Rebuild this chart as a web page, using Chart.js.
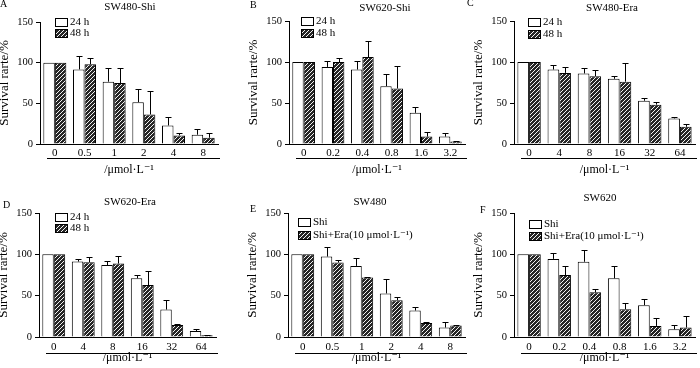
<!DOCTYPE html>
<html lang="en">
<head>
  <meta charset="UTF-8" />
  <title>Survival rate panels</title>
  <script src="https://cdn.jsdelivr.net/npm/chart.js"></script>
  <style>
    html, body { margin: 0; padding: 0; background: #fff; overflow: hidden; }
    body { position: relative; width: 700px; height: 368px; }
    canvas { position: absolute; }
  </style>
</head>
<body>
  <script>
    // concentrations (x categories)
    const shiConc = ['0', '0.5', '1', '2', '4', '8'];
    const shi620Conc = ['0', '0.2', '0.4', '0.8', '1.6', '3.2'];
    const eraConc = ['0', '4', '8', '16', '32', '64'];

    // A  SW480-Shi
    const a24 = [100, 91.7, 76.6, 51.4, 22.8, 11.4];
    const a24Err = [0, 17, 17, 16, 11, 7];
    const a48 = [100, 98, 75, 36.3, 10.6, 7.7];
    const a48Err = [0, 8, 19, 29, 3, 6];
    // B  SW620-Shi
    const b24 = [100, 94, 90.8, 70.5, 38, 9];
    const b24Err = [0, 7, 11, 15, 7, 5];
    const b48 = [100, 100, 106, 67.7, 9, 3];
    const b48Err = [0, 5, 20, 27, 6, 0.5];
    // C  SW480-Era
    const c24 = [100, 90.8, 86, 79.5, 52.7, 31.2];
    const c24Err = [0, 6, 7, 3, 4, 2];
    const c48 = [100, 86.7, 82.7, 76, 48, 21];
    const c48Err = [0, 7, 7, 23, 3, 4];
    // D  SW620-Era
    const d24 = [100, 91.2, 87, 71, 33.2, 7.3];
    const d24Err = [0, 3, 5, 4, 11, 2];
    const d48 = [100, 90.4, 88.8, 62.8, 14.6, 2];
    const d48Err = [0, 6, 9, 17, 1, 1];
    // E  SW480 combination
    const eShi = [100, 97.3, 86, 52.7, 32, 11.4];
    const eShiErr = [0, 12, 10, 17, 4, 7];
    const eCombo = [100, 90, 72, 44.6, 17, 13.8];
    const eComboErr = [0, 3, 1, 4, 1, 1];
    // F  SW620 combination
    const fShi = [100, 94.5, 91, 71, 38.5, 9.3];
    const fShiErr = [0, 7, 14, 15, 7, 5];
    const fCombo = [100, 75, 54, 33.6, 13.4, 11.4];
    const fComboErr = [0, 11, 4, 7, 9, 14];

    const timeLabels = ['24 h', '48 h'];
    const comboLabels = ['Shi', 'Shi+Era(10 \u03bcmol\u00b7L\u207b\u00b9)'];
    const yTicks = [0, 50, 100, 150];

    const SERIF = '"Liberation Serif", "DejaVu Serif", serif';

    // layout of the six panels (absolute page pixels)
    const panels = [
      { letter: 'A', lp: [0, 7], title: 'SW480-Shi', tp: [130, 7.5], axis: 40, right: 218, top: 22, bottom: 144, row: 0,
        cats: shiConc, labels: timeLabels, s1: a24, e1: a24Err, s2: a48, e2: a48Err, leg: [15, 0, 11] },
      { letter: 'B', lp: [250, 8], title: 'SW620-Shi', tp: [385, 8.5], axis: 289, right: 465, top: 21, bottom: 144, row: 0,
        cats: shi620Conc, labels: timeLabels, s1: b24, e1: b24Err, s2: b48, e2: b48Err, leg: [12, 0, 12] },
      { letter: 'C', lp: [467, 6], title: 'SW480-Era', tp: [612, 8.5], axis: 514, right: 695, top: 21, bottom: 144, row: 0,
        cats: eraConc, labels: timeLabels, s1: c24, e1: c24Err, s2: c48, e2: c48Err, leg: [14, 1, 12] },
      { letter: 'D', lp: [3, 208], title: 'SW620-Era', tp: [130, 202], axis: 39, right: 216, top: 213, bottom: 337, row: 184,
        cats: eraConc, labels: timeLabels, s1: d24, e1: d24Err, s2: d48, e2: d48Err, leg: [16, 4, 11] },
      { letter: 'E', lp: [250, 212], title: 'SW480', tp: [370, 202], axis: 288, right: 465, top: 213, bottom: 337, row: 184,
        cats: shiConc, labels: comboLabels, s1: eShi, e1: eShiErr, s2: eCombo, e2: eComboErr, leg: [10, 9, 13] },
      { letter: 'F', lp: [480, 213], title: 'SW620', tp: [600, 198.5], axis: 514, right: 695, top: 213, bottom: 337, row: 184,
        cats: shi620Conc, labels: comboLabels, s1: fShi, e1: fShiErr, s2: fCombo, e2: fComboErr, leg: [15, 11, 12] }
    ];

    function makeHatch(ctx) {
      const c = document.createElement('canvas');
      c.width = 4; c.height = 4;
      const g = c.getContext('2d');
      g.fillStyle = '#262626';
      g.fillRect(0, 0, 4, 4);
      g.strokeStyle = '#f4f4f4';
      g.lineWidth = 1;
      g.beginPath();
      g.moveTo(0, 4); g.lineTo(4, 0);
      g.moveTo(-1, 1); g.lineTo(1, -1);
      g.moveTo(3, 5); g.lineTo(5, 3);
      g.stroke();
      return ctx.createPattern(c, 'repeat');
    }

    // error bars, legend, titles, the line under the x labels
    const decorations = {
      id: 'decorations',
      afterDatasetsDraw(chart, args, opts) {
        const ctx = chart.ctx;
        const y = chart.scales.y;
        ctx.save();
        ctx.strokeStyle = '#000';
        ctx.lineWidth = 1;
        chart.data.datasets.forEach((ds, i) => {
          const meta = chart.getDatasetMeta(i);
          meta.data.forEach((bar, j) => {
            const err = ds.errors[j];
            if (!err) return;
            const top = Math.round(y.getPixelForValue(ds.data[j] + err)) + 0.5;
            const x = Math.round(bar.x) + 0.5;
            ctx.beginPath();
            ctx.moveTo(x, bar.y);
            ctx.lineTo(x, top);
            ctx.moveTo(x - 3, top);
            ctx.lineTo(x + 3, top);
            ctx.stroke();
          });
        });
        ctx.restore();
      },
      afterDraw(chart, args, opts) {
        const ctx = chart.ctx;
        const p = opts.panel;
        const ox = opts.ox, oy = opts.oy;
        const area = chart.chartArea;
        ctx.save();
        ctx.fillStyle = '#000';
        ctx.strokeStyle = '#000';
        ctx.lineWidth = 1;

        // panel letter
        ctx.font = '10px ' + SERIF;
        ctx.textAlign = 'left';
        ctx.textBaseline = 'alphabetic';
        ctx.fillText(p.letter, p.lp[0] - ox, p.lp[1] - oy);

        // panel title
        ctx.font = '11px ' + SERIF;
        ctx.textAlign = 'center';
        ctx.textBaseline = 'middle';
        ctx.fillText(p.title, p.tp[0] - ox, p.tp[1] - oy);

        // legend inside the plot
        ctx.textAlign = 'left';
        chart.data.datasets.forEach((ds, i) => {
          const bx = area.left + p.leg[0];
          const cy = area.top + p.leg[1] + i * p.leg[2];
          ctx.fillStyle = ds.backgroundColor;
          ctx.fillRect(bx, cy - 4, 13, 8);
          ctx.strokeRect(bx + 0.5, Math.round(cy - 4) + 0.5, 12, 8);
          ctx.fillStyle = '#000';
          ctx.font = '11px ' + SERIF;
          ctx.fillText(ds.label, bx + 15, cy + 0.5);
        });

        // rule under the concentration labels
        const ly = Math.round(area.bottom + (p.row === 0 ? 14 : 16)) + 0.5;
        ctx.beginPath();
        ctx.moveTo(area.left + 7, ly);
        ctx.lineTo(area.right + 2, ly);
        ctx.stroke();
        ctx.restore();
      }
    };

    panels.forEach((p) => {
      const canvas = document.createElement('canvas');
      const left = Math.min(p.axis - 42, p.lp[0] - 2);
      const padLeft = p.axis - 42 - left;
      const w = p.right - left + 4;
      const h = 184;
      canvas.width = w;
      canvas.height = h;
      canvas.style.left = left + 'px';
      canvas.style.top = p.row + 'px';
      canvas.style.width = w + 'px';
      canvas.style.height = h + 'px';
      document.body.appendChild(canvas);
      const ctx = canvas.getContext('2d');
      const hatch = makeHatch(ctx);
      const xHeight = p.row + h - p.bottom;
      const topRow = p.row === 0;

      new Chart(ctx, {
        type: 'bar',
        data: {
          labels: p.cats,
          datasets: [
            { label: p.labels[0], data: p.s1, errors: p.e1, backgroundColor: '#ffffff',
              borderColor: '#000', borderWidth: 1 },
            { label: p.labels[1], data: p.s2, errors: p.e2, backgroundColor: hatch,
              borderColor: '#000', borderWidth: 1 }
          ]
        },
        plugins: [decorations],
        options: {
          responsive: false,
          devicePixelRatio: 1,
          animation: false,
          events: [],
          categoryPercentage: 0.775,
          barPercentage: 1.0,
          layout: { padding: { left: padLeft, right: 4, top: p.top - p.row, bottom: 0 } },
          plugins: {
            legend: { display: false },
            tooltip: { enabled: false },
            title: { display: false },
            decorations: { panel: p, ox: left, oy: p.row }
          },
          scales: {
            x: {
              afterFit(scale) { scale.height = xHeight; },
              grid: { drawOnChartArea: false, drawTicks: false },
              border: { display: true, color: '#000', width: 1 },
              ticks: { color: '#000', padding: topRow ? 2.4 : 4, font: { family: SERIF, size: 11 }, maxRotation: 0 },
              title: {
                display: true, text: '/\u03bcmol\u00b7L\u207b\u00b9', color: '#000',
                font: { family: SERIF, size: 12 },
                padding: { top: 0, bottom: topRow ? 6.8 : 2.8 }
              }
            },
            y: {
              min: 0,
              max: 150,
              afterFit(scale) { scale.width = 42; },
              afterBuildTicks(scale) { scale.ticks = yTicks.map(v => ({ value: v })); },
              grid: { drawOnChartArea: false, drawTicks: true, tickLength: 4, color: '#000' },
              border: { display: true, color: '#000', width: 1 },
              ticks: { color: '#000', padding: 3, font: { family: SERIF, size: 10.5 } },
              title: {
                display: true, text: 'Survival rarte/%', color: '#000',
                font: { family: SERIF, size: 13, lineHeight: 1 },
                padding: { top: 0.5, bottom: 0 }
              }
            }
          }
        }
      });
    });
  </script>
</body>
</html>
